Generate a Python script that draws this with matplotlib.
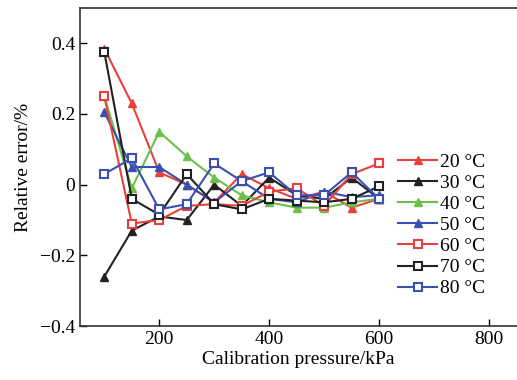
import numpy as np
import matplotlib
matplotlib.use("Agg")
import matplotlib.pyplot as plt
import matplotlib.ticker as ticker

# calibration pressures, kPa
pressure = [100, 150, 200, 250, 300, 350, 400, 450, 500, 550, 600]

# relative error (%) per temperature
err_20 = [0.385, 0.23, 0.035, 0.00, -0.05, 0.03, -0.01, -0.04, -0.02, -0.065, -0.04]
err_30 = [-0.26, -0.13, -0.09, -0.10, 0.00, -0.06, 0.02, -0.03, -0.04, 0.02, -0.04]
err_40 = [0.25, -0.01, 0.15, 0.08, 0.02, -0.03, -0.05, -0.065, -0.065, -0.05, -0.04]
err_50 = [0.205, 0.05, 0.05, 0.00, -0.05, 0.01, -0.04, -0.05, -0.02, -0.035, -0.03]
err_60 = [0.25, -0.11, -0.10, -0.06, -0.055, -0.06, -0.02, -0.01, -0.06, 0.03, 0.06]
err_70 = [0.375, -0.04, -0.085, 0.03, -0.055, -0.07, -0.04, -0.045, -0.05, -0.04, -0.005]
err_80 = [0.03, 0.075, -0.07, -0.055, 0.06, 0.01, 0.035, -0.03, -0.03, 0.035, -0.04]

labels = ['20 °C', '30 °C', '40 °C', '50 °C', '60 °C', '70 °C', '80 °C']

red = '#e8413c'
black = '#222222'
green = '#6cc04a'
blue = '#3a4fb0'

series = [
    (err_20, red, '^'),
    (err_30, black, '^'),
    (err_40, green, '^'),
    (err_50, blue, '^'),
    (err_60, red, 's'),
    (err_70, black, 's'),
    (err_80, blue, 's'),
]

plt.rcParams['font.family'] = ['Liberation Serif', 'DejaVu Serif']

fig = plt.figure(figsize=(5.17, 3.8), dpi=100)
ax = fig.add_axes([0.155, 0.142, 0.845, 0.837])

for (vals, col, mk), lab in zip(series, labels):
    if mk == '^':
        ax.plot(pressure, vals, color=col, marker='^', markersize=6,
                markerfacecolor=col, markeredgecolor=col, linewidth=1.5, label=lab)
    else:
        ax.plot(pressure, vals, color=col, marker='s', markersize=5.5,
                markerfacecolor='white', markeredgecolor=col, markeredgewidth=1.5,
                linewidth=1.5, label=lab)

ax.set_xlim(56, 851)
ax.set_ylim(-0.4, 0.5)
ax.xaxis.set_major_locator(ticker.FixedLocator([200, 400, 600, 800]))
ax.yaxis.set_major_locator(ticker.FixedLocator([-0.4, -0.2, 0, 0.2, 0.4]))

def yfmt(v, pos):
    if abs(v) < 1e-9:
        return '0'
    return ('%.1f' % v).replace('-', '\u2212')

ax.yaxis.set_major_formatter(ticker.FuncFormatter(yfmt))
ax.tick_params(direction='in', length=5, width=1, labelsize=14, top=False, right=False)
ax.spines['right'].set_visible(False)
for s in ['left', 'bottom', 'top']:
    ax.spines[s].set_linewidth(1.2)
    ax.spines[s].set_color('#333333')

ax.set_xlabel('Calibration pressure/kPa', fontsize=14, labelpad=2)
ax.set_ylabel('Relative error/%', fontsize=14, labelpad=6)

ax.legend(loc='upper left', bbox_to_anchor=(0.77, 0.597), bbox_transform=fig.transFigure,
          frameon=False, fontsize=14, handlelength=2.0, handletextpad=0.15,
          labelspacing=0.18, borderpad=0, borderaxespad=0)

fig.savefig('out.png', dpi=100)
